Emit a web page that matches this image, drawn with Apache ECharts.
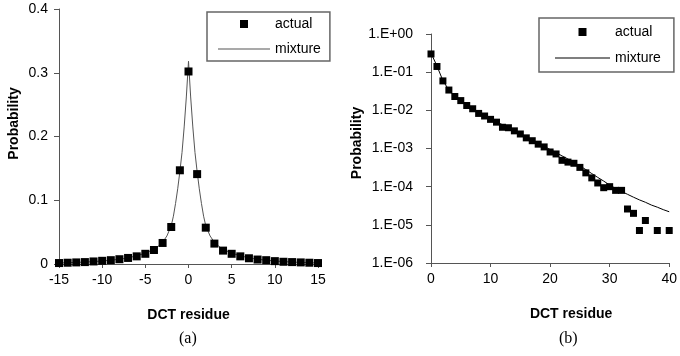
<!DOCTYPE html>
<html>
<head>
<meta charset="utf-8">
<script src="https://cdn.jsdelivr.net/npm/echarts@6/dist/echarts.min.js"></script>
<style>
  html, body { margin: 0; padding: 0; background: #fff; }
  #chart { width: 680px; height: 356px; }
</style>
</head>
<body>
<div id="chart"></div>
<script>
// (a) linear-scale histogram of DCT residues, -15..15
var linResidue = [-15,-14,-13,-12,-11,-10,-9,-8,-7,-6,-5,-4,-3,-2,-1,0,1,2,3,4,5,6,7,8,9,10,11,12,13,14,15];
var linActual  = [0.0015,0.002,0.0025,0.003,0.004,0.005,0.006,0.0075,0.0095,0.012,0.016,0.022,0.033,0.058,0.147,0.302,
                  0.141,0.057,0.032,0.021,0.016,0.012,0.009,0.007,0.006,0.0045,0.0035,0.003,0.0025,0.002,0.0015];

// mixture model curve, sampled more densely near the peak
var linMixX = [-15,-14,-13,-12,-11,-10,-9,-8,-7,-6,-5,-4,-3.5,-3,-2.5,-2,-1.75,-1.5,-1.25,-1,-0.75,-0.5,-0.25,
               0,0.25,0.5,0.75,1,1.25,1.5,1.75,2,2.5,3,3.5,4,5,6,7,8,9,10,11,12,13,14,15];
var linMixY = [0.0017,0.002,0.0025,0.003,0.0038,0.0047,0.006,0.0075,0.0095,0.013,0.017,0.023,0.028,0.034,0.044,0.06,0.075,0.095,0.118,0.145,0.175,0.215,0.262,
               0.318,0.262,0.215,0.175,0.145,0.118,0.095,0.075,0.06,0.044,0.034,0.028,0.023,0.017,0.013,0.0095,0.0075,0.006,0.0047,0.0038,0.003,0.0025,0.002,0.0017];

// (b) log-scale tail, 0..40 (no counts at 37 and 39)
var logResidue = [0,1,2,3,4,5,6,7,8,9,10,11,12,13,14,15,16,17,18,19,20,21,22,23,24,25,26,27,28,29,30,31,32,33,34,35,36,38,40];
var logActual  = [0.30,0.141,0.059,0.034,0.023,0.018,0.0134,0.011,0.0083,0.0071,0.0058,0.0049,0.0036,0.0035,0.0029,0.0024,
                  0.0019,0.0016,0.0013,0.0011,0.00081,0.00072,0.00049,0.00044,0.00041,0.00032,0.00023,0.00017,0.000125,
                  0.000094,0.0001,0.00008,0.00008,0.000026,0.00002,0.0000071,0.000013,0.0000071,0.0000071];

var logMixX = [0,1,2,3,4,5,6,7,8,9,10,11,12,13,14,15,16,17,18,19,20,21,22,23,24,25,26,27,28,29,30,31,32,33,34,35,36,37,38,39,40];
var logMixY = [0.318,0.145,0.06,0.034,0.023,0.0175,0.0137,0.011,0.0088,0.0072,0.006,0.005,0.0042,0.0035,0.0029,0.0024,
               0.002,0.00165,0.00137,0.00114,0.00094,0.00078,0.00064,0.00053,0.00043,0.00035,0.00028,0.00022,0.000175,
               0.00014,0.00011,0.00009,0.000075,0.000063,0.000053,0.000045,0.000039,0.000033,0.000029,0.000025,0.000022];

var linTicks = [0, 0.1, 0.2, 0.3, 0.4];

function zip(xs, ys) { return xs.map(function (x, i) { return [x, ys[i]]; }); }

var FONT = 'Arial, "Liberation Sans", sans-serif';
var axisColor = '#555';
var labelStyle = { color: '#000', fontSize: 14, fontFamily: FONT };
var nameStyle = { color: '#000', fontSize: 14, fontFamily: FONT, fontWeight: 'bold' };

// legend glyphs: a small square for the histogram, a thin bar for the curve
var SQUARE_ICON = 'path://M0,0H1V1H0Z';
var LINE_ICON = 'path://M0,0H60V1H0Z';

function sciLabel(v) {
  var e = Math.round(Math.log10(v));
  var a = Math.abs(e);
  return '1.E' + (e < 0 ? '-' : '+') + (a < 10 ? '0' : '') + a;
}

var chart = echarts.init(document.getElementById('chart'), null, { renderer: 'canvas' });

chart.setOption({
  backgroundColor: '#fff',
  animation: false,
  grid: [
    { left: 59, top: 9, width: 259, height: 255 },
    { left: 431, top: 34, width: 241, height: 229 }
  ],
  xAxis: [
    {
      gridIndex: 0, type: 'value', min: -15, max: 15, interval: 5,
      name: 'DCT residue', nameLocation: 'middle', nameGap: 44, nameTextStyle: nameStyle,
      axisLine: { onZero: false, lineStyle: { color: axisColor, width: 1 } },
      axisTick: { show: true, length: 4, lineStyle: { color: axisColor } },
      axisLabel: Object.assign({ margin: 9 }, labelStyle),
      splitLine: { show: false }
    },
    {
      gridIndex: 1, type: 'value', min: 0, max: 40, interval: 10,
      name: 'DCT residue', nameLocation: 'middle', nameGap: 44,
      nameTextStyle: Object.assign({ padding: [0, 0, 0, 42] }, nameStyle),
      axisLine: { onZero: false, lineStyle: { color: axisColor, width: 1 } },
      axisTick: { show: true, length: 4, lineStyle: { color: axisColor } },
      axisLabel: Object.assign({ margin: 9 }, labelStyle),
      splitLine: { show: false }
    }
  ],
  yAxis: [
    {
      gridIndex: 0, type: 'value', min: linTicks[0], max: linTicks[linTicks.length - 1], interval: 0.1,
      name: 'Probability', nameLocation: 'middle', nameGap: 38,
      nameTextStyle: Object.assign({ padding: [0, 0, 0, 26] }, nameStyle),
      axisLine: { show: true, onZero: false, lineStyle: { color: axisColor, width: 1 } },
      axisTick: { show: true, length: 5, lineStyle: { color: axisColor } },
      axisLabel: Object.assign({ margin: 11 }, labelStyle),
      splitLine: { show: false }
    },
    {
      gridIndex: 1, type: 'log', logBase: 10, min: 1e-6, max: 1,
      name: 'Probability', nameLocation: 'middle', nameGap: 66,
      nameTextStyle: Object.assign({ padding: [0, 0, 0, 11] }, nameStyle),
      axisLine: { show: true, onZero: false, lineStyle: { color: axisColor, width: 1 } },
      axisTick: { show: true, length: 5, lineStyle: { color: axisColor } },
      axisLabel: Object.assign({ margin: 18, formatter: sciLabel }, labelStyle),
      splitLine: { show: false },
      minorTick: { show: false }
    }
  ],
  legend: [
    {
      left: 207, top: 12, orient: 'vertical', itemGap: 11,
      padding: [5, 9, 5, 11], itemWidth: 52, itemHeight: 8,
      borderColor: '#666', borderWidth: 1.5, symbolKeepAspect: true,
      textStyle: { color: '#000', fontSize: 14, fontFamily: FONT },
      data: [{ name: 'actual', icon: SQUARE_ICON }, { name: 'mixture', icon: LINE_ICON }],
      selectedMode: false
    },
    {
      left: 539, top: 18, orient: 'vertical', itemGap: 12,
      padding: [7, 13, 7, 16], itemWidth: 55, itemHeight: 8,
      borderColor: '#666', borderWidth: 1.5, symbolKeepAspect: true,
      textStyle: { color: '#000', fontSize: 14, fontFamily: FONT },
      data: [{ name: 'actual ', icon: SQUARE_ICON }, { name: 'mixture ', icon: LINE_ICON }],
      formatter: function (n) { return n.trim(); },
      selectedMode: false
    }
  ],
  graphic: [
    { type: 'text', left: 179, top: 331, style: { text: '(a)', fill: '#000', font: '16px "Liberation Serif", "Times New Roman", serif' } },
    { type: 'text', left: 559, top: 331, style: { text: '(b)', fill: '#000', font: '16px "Liberation Serif", "Times New Roman", serif' } }
  ],
  series: [
    {
      name: 'mixture', type: 'line', xAxisIndex: 0, yAxisIndex: 0,
      data: zip(linMixX, linMixY), symbol: 'none', smooth: false,
      lineStyle: { color: '#555', width: 1 }, itemStyle: { color: '#555' }, z: 2
    },
    {
      name: 'actual', type: 'scatter', xAxisIndex: 0, yAxisIndex: 0,
      data: zip(linResidue, linActual), symbol: 'rect', symbolSize: 8,
      itemStyle: { color: '#000', opacity: 1 }, z: 3
    },
    {
      name: 'mixture ', type: 'line', xAxisIndex: 1, yAxisIndex: 1,
      data: zip(logMixX, logMixY), symbol: 'none', smooth: false,
      lineStyle: { color: '#000', width: 1 }, itemStyle: { color: '#000' }, z: 2
    },
    {
      name: 'actual ', type: 'scatter', xAxisIndex: 1, yAxisIndex: 1,
      data: zip(logResidue, logActual), symbol: 'rect', symbolSize: 7,
      itemStyle: { color: '#000', opacity: 1 }, z: 3
    }
  ]
});
</script>
</body>
</html>
